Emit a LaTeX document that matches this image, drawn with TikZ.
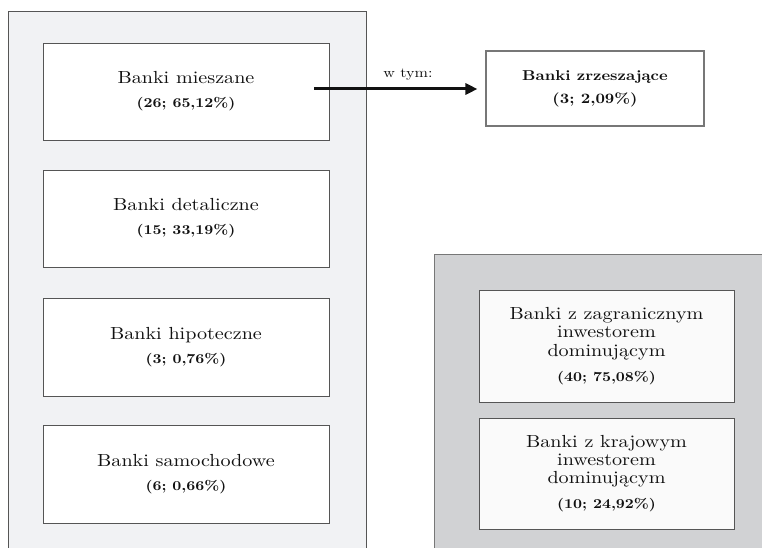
\documentclass[tikz,border=0pt]{standalone}
\usepackage{fontspec}
\setmainfont{lmroman10-regular.otf}[BoldFont=lmroman10-bold.otf, FakeStretch=1.15]
\usetikzlibrary{arrows.meta}
\definecolor{lpanel}{HTML}{F1F2F4}
\definecolor{rpanel}{HTML}{D1D2D4}
\definecolor{rbox}{HTML}{FAFAFA}
\definecolor{edge}{HTML}{555555}
\definecolor{ink}{HTML}{111111}
\tikzset{
  panel/.style={draw=edge, line width=1pt},
  lbox/.style={draw=edge, line width=0.9pt, fill=white, minimum width=286pt, inner sep=0pt,
    align=center, text=ink, font=\fontsize{17.5}{24}\selectfont},
  zbox/.style={draw=edge!80, line width=1.1pt, fill=white, minimum width=218pt, minimum height=75pt,
    inner sep=0pt, align=center, text=ink, font=\fontsize{14.3}{23.3}\selectfont\bfseries},
  rboxst/.style={draw=edge, line width=0.9pt, fill=rbox, minimum width=255pt, inner sep=0pt,
    align=center, text=ink, font=\fontsize{17.5}{18.3}\selectfont},
  lbl/.style={text=ink, font=\fontsize{14}{16}\selectfont, anchor=base},
  conn/.style={draw=ink, line width=3pt, -{Triangle[length=12pt,width=11pt]}}
}
\newcommand{\pctline}[1]{{\fontsize{13.6}{24}\selectfont\bfseries #1}}
\newcommand{\rpctline}[1]{{\fontsize{13.6}{18.3}\selectfont\bfseries #1}}
\begin{document}
\begin{tikzpicture}[x=1pt,y=-1pt]
\useasboundingbox (0,0) rectangle (762,548);
\clip (0,0) rectangle (762,548);
% panels
\draw[panel, fill=lpanel] (8,12) rectangle (366,560);
\draw[panel, draw=edge!80, fill=rpanel] (434,254) rectangle (775,560);
% left boxes
\node[lbox, minimum height=97pt] (m) at (186,91.5) {Banki mieszane\\\pctline{(26; 65,12\%)}};
\node[lbox, minimum height=97pt] (d) at (186,218.5) {Banki detaliczne\\\pctline{(15; 33,19\%)}};
\node[lbox, minimum height=98pt] (h) at (186,347) {Banki hipoteczne\\\pctline{(3; 0,76\%)}};
\node[lbox, minimum height=98pt] (s) at (186,474) {Banki samochodowe\\\pctline{(6; 0,66\%)}};
% top right
\node[zbox] (z) at (595,88.5) {Banki zrzeszające\\(3; 2,09\%)};
% right boxes
\node[rboxst, minimum height=112pt] (f) at (606.5,346) {Banki z zagranicznym\\inwestorem\\dominującym\\[6.7pt]\rpctline{(40; 75,08\%)}};
\node[rboxst, minimum height=111pt] (k) at (606.5,473.5) {Banki z krajowym\\inwestorem\\dominującym\\[6.7pt]\rpctline{(10; 24,92\%)}};
% connector
\coordinate (st) at (314,89);
\draw[conn, shorten >=8pt] (st) -- (st -| z.west);
\node[lbl] (wt) at (408,78) {w tym:};
\end{tikzpicture}
\end{document}
